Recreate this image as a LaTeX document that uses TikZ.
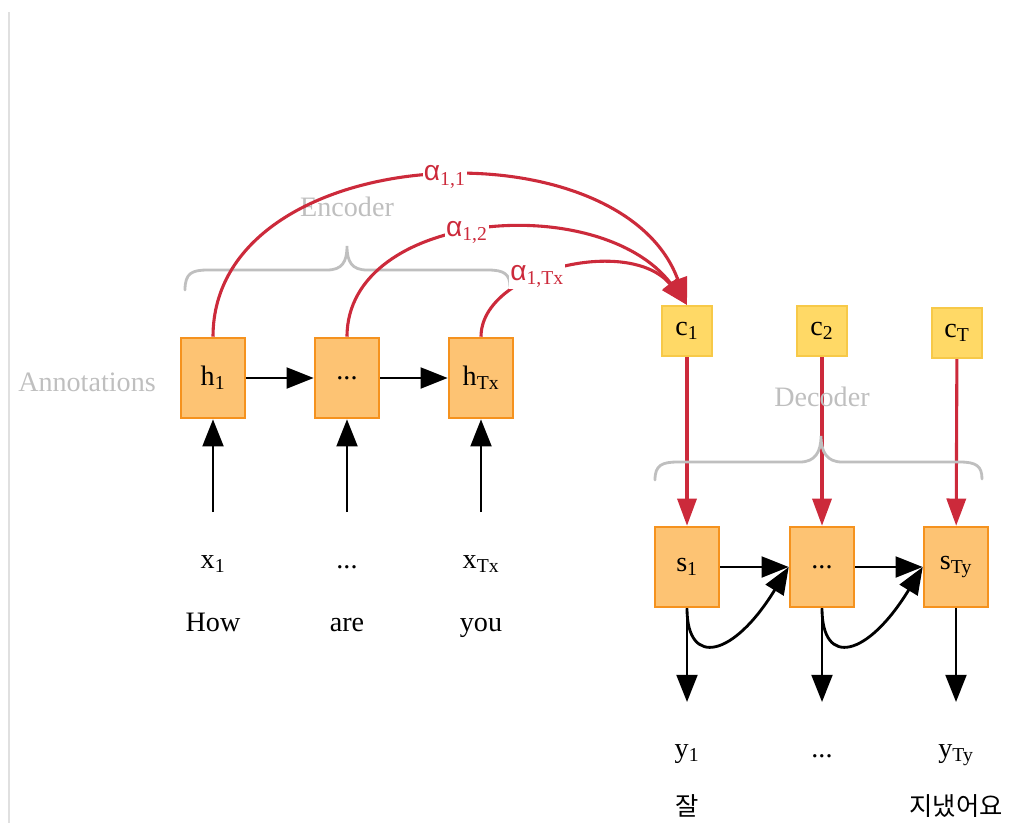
\documentclass[tikz,border=0pt]{standalone}
\usepackage{fontspec}
\setmainfont{Liberation Serif}
\newfontfamily\alphafont{Liberation Sans}
\newfontfamily\korfont{Noto Sans CJK KR}
\usetikzlibrary{arrows.meta}

\definecolor{cellfill}{HTML}{FDC373}
\definecolor{celledge}{HTML}{F5921E}
\definecolor{ctxfill}{HTML}{FFD966}
\definecolor{ctxedge}{HTML}{F7C948}
\definecolor{attred}{HTML}{CC2A3B}
\definecolor{notegray}{HTML}{BFBFBF}

\begin{document}
\begin{tikzpicture}[x=0.025cm, y=-0.025cm,
    cell/.style={draw=celledge, fill=cellfill, line width=1.8pt,
      minimum width=1.6cm, minimum height=2cm, font=\fontsize{20}{24}\selectfont},
    ctx/.style={draw=ctxedge, fill=ctxfill, line width=1.5pt,
      minimum size=1.25cm, font=\fontsize{20}{24}\selectfont},
    word/.style={font=\fontsize{20}{24}\selectfont, text height=1.5ex, text depth=0.4ex},
    note/.style={text=notegray, font=\fontsize{20}{24}\selectfont},
    flow/.style={line width=2pt, -{Triangle[length=0.68cm, width=0.52cm]}},
    attn/.style={draw=attred, line width=2.2pt, -{Triangle[length=0.68cm, width=0.48cm]}},
    weight/.style={text=attred, fill=white, inner sep=1pt, font=\fontsize{20}{24}\selectfont},
    brace/.style={notegray, line width=2pt, line cap=round}]
    \useasboundingbox (0,0) rectangle (1011,823);

    % page edge
    \draw[black!12, line width=1pt] (9,12) -- (9,823);

    % Encoder: annotations h
    \node[cell] (h1) at (213,378) {h\textsubscript{1}};
    \node[cell] (hdots) at (347,378) {...};
    \node[cell] (hTx) at (481,378) {h\textsubscript{Tx}};
    \node[note] (annot) at (87,382) {Annotations};
    \draw[flow] (h1) -- (hdots);
    \draw[flow] (hdots) -- (hTx);

    % inputs x and source words
    \node[word] (x1) at (213,565) {x\textsubscript{1}};
    \node[word] (xdots) at (347,565) {...};
    \node[word] (xTx) at (481,565) {x\textsubscript{Tx}};
    \node[word] (how) at (213,628) {How};
    \node[word] (are) at (347,628) {are};
    \node[word] (you) at (481,628) {you};
    \coordinate (in1) at (213,512);
    \coordinate (in2) at (347,512);
    \coordinate (in3) at (481,512);
    \draw[flow] (in1) -- (h1);
    \draw[flow] (in2) -- (hdots);
    \draw[flow] (in3) -- (hTx);

    % Encoder brace
    \node[note] (enc) at (347,207) {Encoder};
    \draw[brace] (185,290) .. controls (185,273) and (192,270) .. (208,270)
      -- (327,270) .. controls (342,270) and (347,262) .. (347,246)
      .. controls (347,262) and (352,270) .. (367,270)
      -- (488,270) .. controls (504,270) and (510,274) .. (510,287);

    % context vectors c
    \node[ctx] (c1) at (687,331) {c\textsubscript{1}};
    \node[ctx] (c2) at (822,331) {c\textsubscript{2}};
    \node[ctx] (cT) at (957,333) {c\textsubscript{T}};

    % attention weights into c1
    \draw[attn] (h1.north) .. controls (213,140) and (620,120) .. (c1.north)
      node[weight, pos=0.53] {{\alphafont α}\textsubscript{1,1}};
    \draw[attn] (hdots.north) .. controls (347,210) and (600,190) .. (c1.north)
      node[weight, pos=0.46] {{\alphafont α}\textsubscript{1,2}};
    \draw[attn] (hTx.north) .. controls (481,270) and (630,235) .. (c1.north)
      node[weight, pos=0.4] {{\alphafont α}\textsubscript{1,Tx}};

    % Decoder: states s
    \node[cell] (s1) at (687,567) {s\textsubscript{1}};
    \node[cell] (sdots) at (822,567) {...};
    \node[cell] (sTy) at (956,567) {s\textsubscript{Ty}};
    \draw[attn] (c1) -- (s1);
    \draw[attn] (c2) -- (sdots);
    \draw[attn] (cT) -- (sTy);
    \draw[flow] (s1) -- (sdots);
    \draw[flow] (sdots) -- (sTy);
    \draw[flow] (s1.south) .. controls +(0,60) and +(-55,90) .. (sdots.west);
    \draw[flow] (sdots.south) .. controls +(0,60) and +(-55,90) .. (sTy.west);

    % Decoder brace
    \node[note] (dec) at (822,397) {Decoder};
    \draw[brace] (655,480) .. controls (655,465) and (662,462) .. (678,462)
      -- (800,462) .. controls (815,462) and (821,452) .. (821,436)
      .. controls (821,452) and (827,462) .. (842,462)
      -- (960,462) .. controls (976,462) and (982,466) .. (982,479);

    % outputs y and target words
    \coordinate (out1) at (687,702);
    \coordinate (out2) at (822,702);
    \coordinate (out3) at (956,702);
    \draw[flow] (s1) -- (out1);
    \draw[flow] (sdots) -- (out2);
    \draw[flow] (sTy) -- (out3);
    \node[word] (y1) at (687,754) {y\textsubscript{1}};
    \node[word] (ydots) at (822,754) {...};
    \node[word] (yTy) at (956,754) {y\textsubscript{Ty}};
    \node[font=\korfont\fontsize{18}{22}\selectfont] (jal) at (687,806) {잘};
    \node[font=\korfont\fontsize{18}{22}\selectfont] (jinaess) at (956,806) {지냈어요};

\end{tikzpicture}
\end{document}
